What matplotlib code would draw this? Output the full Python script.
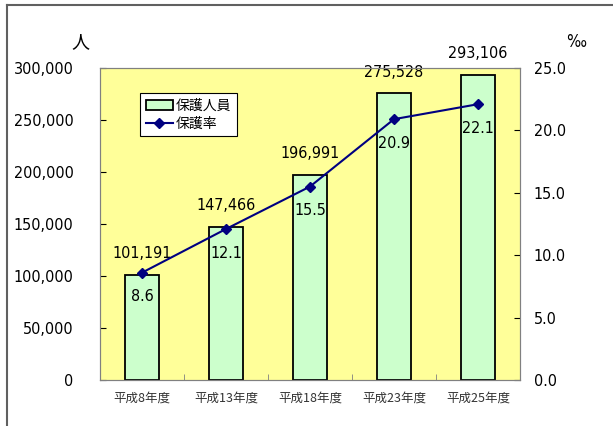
import matplotlib
matplotlib.use('Agg')
import matplotlib.pyplot as plt
from matplotlib.lines import Line2D
from matplotlib.patches import Patch
from matplotlib.ticker import FuncFormatter
import numpy as np

# data
years = ['平成8年度', '平成13年度', '平成18年度', '平成23年度', '平成25年度']
persons = [101191, 147466, 196991, 275528, 293106]
rate = [8.6, 12.1, 15.5, 20.9, 22.1]

jp_font = ['Noto Sans CJK JP', 'DejaVu Sans']
plt.rcParams['font.family'] = 'DejaVu Sans'
plt.rcParams['font.stretch'] = 'condensed'

fig = plt.figure(figsize=(6.13, 4.26), dpi=100)
ax = fig.add_axes([100 / 613, 1 - 380 / 426, 420 / 613, 312 / 426])
ax.set_facecolor('#ffff99')

x = np.arange(len(years))
ax.bar(x, persons, width=0.4, color='#ccffcc', edgecolor='black', linewidth=1.3, zorder=2)
ax.set_xlim(-0.5, len(years) - 0.5)
ax.set_ylim(0, 300000)
ax.set_yticks(np.arange(0, 300001, 50000))
ax.yaxis.set_major_formatter(FuncFormatter(lambda v, p: f'{int(v):,}'))
ax.set_xticks(x)
ax.set_xticklabels(years, family=jp_font, fontsize=9, color='#333333')
ax.set_xticks(np.arange(-0.5, len(years), 1), minor=True)
ax.tick_params(axis='x', which='major', length=0, pad=8)
ax.tick_params(axis='x', which='minor', direction='in', length=4, color='#808080')
ax.tick_params(axis='y', direction='in', length=4, labelsize=11.5, pad=19)
for s in ax.spines.values():
    s.set_color('#808080')

for i, v in enumerate(persons):
    ax.annotate(f'{v:,}', (x[i], v), xytext=(0, 10), textcoords='offset points',
                ha='center', va='bottom', fontsize=11.5)

ax2 = ax.twinx()
ax2.plot(x, rate, color='#000080', marker='D', markersize=5, linewidth=1.5, zorder=3)
ax2.set_ylim(0, 25)
ax2.set_yticks(np.arange(0, 25.1, 5))
ax2.yaxis.set_major_formatter(FuncFormatter(lambda v, p: f'{v:.1f}'))
ax2.tick_params(axis='y', direction='in', length=4, labelsize=11.5, pad=10)
for s in ax2.spines.values():
    s.set_color('#808080')
for i, v in enumerate(rate):
    ax2.annotate(f'{v}', (x[i], v), xytext=(0, -12), textcoords='offset points',
                 ha='center', va='top', fontsize=11.5)

fig.text(80 / 613, 1 - 42 / 426, '人', family=jp_font, fontsize=13, ha='center', va='center')
fig.text(576 / 613, 1 - 42 / 426, '‰', fontsize=12, ha='center', va='center')

handles = [Patch(facecolor='#ccffcc', edgecolor='black', linewidth=1.3),
           Line2D([0], [0], color='#000080', marker='D', markersize=5, linewidth=1.5)]
leg = ax.legend(handles, ['保護人員', '保護率'], loc='upper left',
                bbox_to_anchor=(40 / 420, 1 - 25 / 312), borderaxespad=0,
                prop={'family': jp_font, 'size': 10},
                fancybox=False, framealpha=1, edgecolor='black', handlelength=2.0,
                borderpad=0.4, labelspacing=0.3, handletextpad=0.2)
leg.get_frame().set_linewidth(0.8)
leg.set_zorder(5)

# outer frame lines (left and top)
fig.add_artist(Line2D([7 / 613, 7 / 613], [0, 1 - 5 / 426], color='#606060', linewidth=1.5))
fig.add_artist(Line2D([7 / 613, 1], [1 - 5 / 426, 1 - 5 / 426], color='#606060', linewidth=1.5))

fig.savefig('out.png', dpi=100)
